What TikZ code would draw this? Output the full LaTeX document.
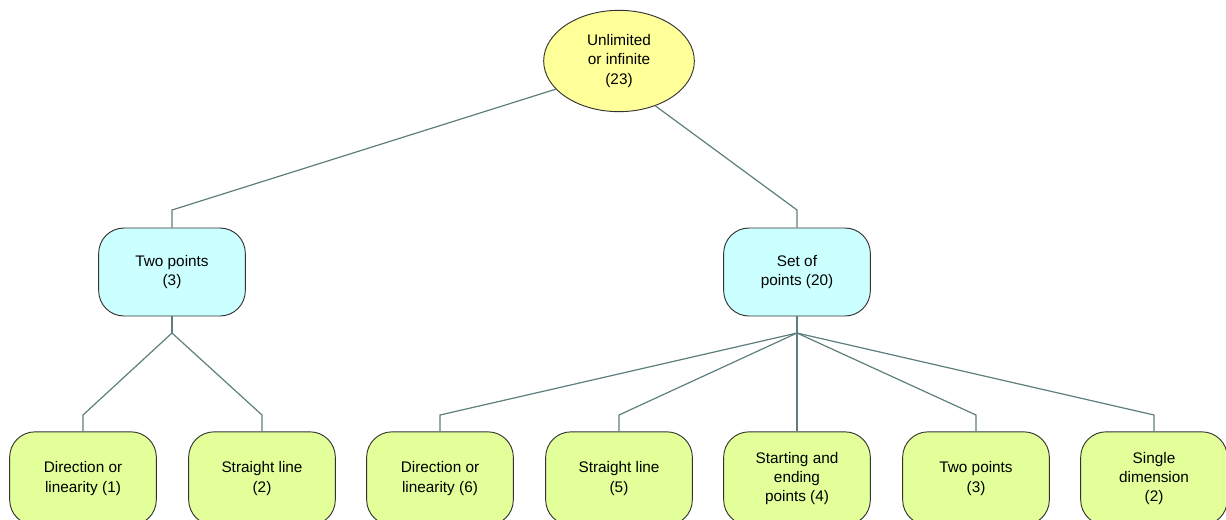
\documentclass[tikz,border=0pt]{standalone}
\usepackage{fontspec}
\setmainfont{Liberation Sans}
\usepackage{tikz}
\usetikzlibrary{shapes,positioning,calc}
\definecolor{rootyellow}{HTML}{FFFF99}
\definecolor{midcyan}{HTML}{CCFFFF}
\definecolor{leafgreen}{HTML}{E2FF99}
\definecolor{linkgray}{HTML}{5E7E7E}

\begin{document}
\begin{tikzpicture}[x=0.75pt,y=-0.75pt,
  link/.style={draw=linkgray,line width=0.9pt},
  card/.style={draw=black!80,line width=0.7pt,rounded corners=19pt,minimum width=110pt,minimum height=66pt,align=center,font=\fontsize{11.5}{14.5}\selectfont},
  midcard/.style={card,fill=midcyan},
  leafcard/.style={card,fill=leafgreen,minimum height=70pt}]
\useasboundingbox (0,0) rectangle (1226,519);

% Root
\node[ellipse,draw=black!80,line width=0.7pt,fill=rootyellow,minimum width=113pt,minimum height=76pt,align=center,font=\fontsize{11.5}{14.5}\selectfont] (root) at (619,61) {Unlimited\\or infinite\\(23)};

% Second level
\node[midcard] (twopts) at (172,272) {Two points\\(3)};
\node[midcard] (setpts) at (797,272) {Set of\\points (20)};

% Leaves
\node[leafcard] (dirA) at (83,478.5) {Direction or\\linearity (1)};
\node[leafcard] (lineA) at (262,478.5) {Straight line\\(2)};
\node[leafcard] (dirB) at (440,478.5) {Direction or\\linearity (6)};
\node[leafcard] (lineB) at (619,478.5) {Straight line\\(5)};
\node[leafcard] (ends) at (797,478.5) {Starting and\\ending\\points (4)};
\node[leafcard] (twoB) at (976,478.5) {Two points\\(3)};
\node[leafcard] (single) at (1154,478.5) {Single\\dimension\\(2)};

% Junctions
\coordinate (kL) at (172,210);
\coordinate (kR) at (797,210);
\coordinate (hL) at (172,333);
\coordinate (hR) at (797,333);

% Links
\draw[link] (root.204) -- (kL) -- (twopts.north);
\draw[link] (root.309) -- (kR) -- (setpts.north);
\draw[link] (twopts.south) -- (hL);
\draw[link] (hL) -- (83,415) -- (dirA.north);
\draw[link] (hL) -- (262,415) -- (lineA.north);
\draw[link] (setpts.south) -- (hR);
\draw[link] (hR) -- (440,415) -- (dirB.north);
\draw[link] (hR) -- (619,415) -- (lineB.north);
\draw[link] (hR) -- (ends.north);
\draw[link] (hR) -- (976,415) -- (twoB.north);
\draw[link] (hR) -- (1154,415) -- (single.north);
\end{tikzpicture}
\end{document}
